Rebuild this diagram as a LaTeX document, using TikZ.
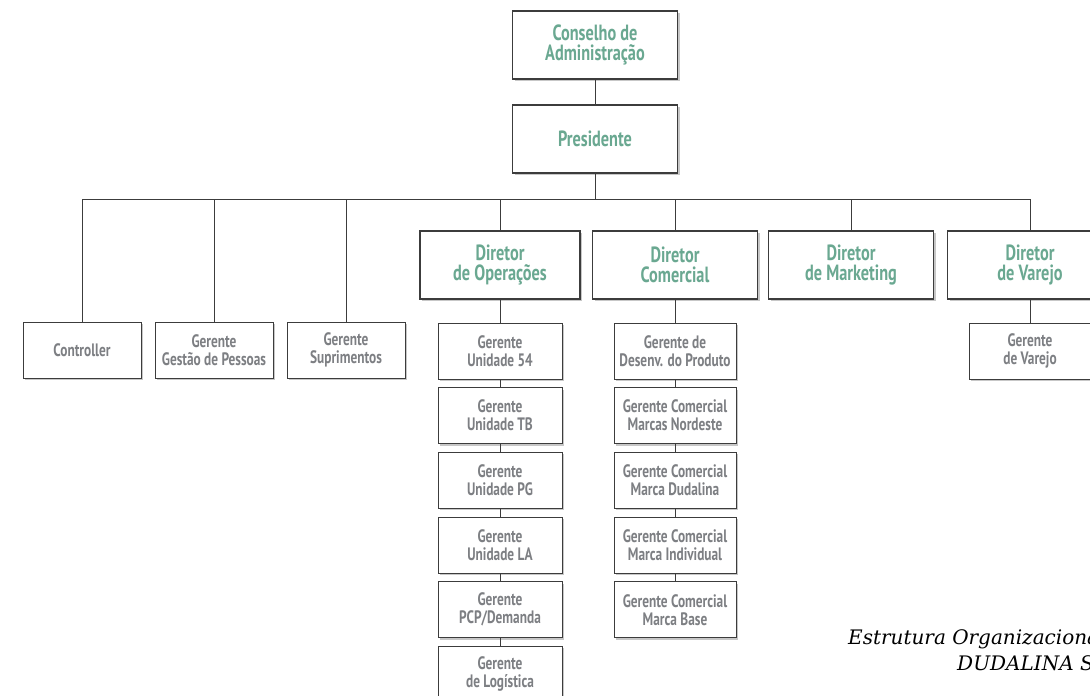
\documentclass[tikz,border=0pt]{standalone}
\usepackage{fontspec}
\newfontfamily\orgfont[FakeStretch=0.74]{PT Sans}
\newfontfamily\captfont{DejaVu Serif}
\usetikzlibrary{positioning,shadows}
\definecolor{verde}{HTML}{6AA891}
\definecolor{cinza}{HTML}{7D7F83}
\definecolor{borda}{HTML}{3C3C3C}

\begin{document}
\begin{tikzpicture}
  [x=1pt,y=-1pt,
   boxN/.style={rectangle,draw=borda,fill=white,align=center,inner sep=0pt,
     drop shadow={shadow xshift=2pt,shadow yshift=-2pt,fill=black!22,opacity=1}},
   dirN/.style={boxN,line width=1.1pt,minimum width=165pt,minimum height=68pt,
     font=\orgfont\bfseries\fontsize{22}{20}\selectfont,text=verde},
   gerN/.style={boxN,line width=0.7pt,minimum width=122pt,minimum height=56pt,
     font=\orgfont\bfseries\fontsize{18}{18}\selectfont,text=cinza},
   opsN/.style={gerN,minimum width=124pt},
   linkN/.style={draw=borda,line width=1pt},
   node distance=8pt]

  \useasboundingbox (0,0) rectangle (1090,696);
  \clip (0,0) rectangle (1090,696);

  % topo
  \node[dirN] (conselho) at (595,45) {Conselho de\\Administração};
  \node[dirN] (presidente) at (595,139) {Presidente};
  \coordinate (bus) at (595,199);

  % diretores
  \node[dirN,minimum width=160pt] (dirops) at (500,265) {Diretor\\de Operações};
  \node[dirN] (dircom) at (675,265) {Diretor\\Comercial};
  \node[dirN] (dirmkt) at (851,265) {Diretor\\de Marketing};
  \node[dirN] (dirvar) at (1030,265) {Diretor\\de Varejo};

  % staff
  \node[gerN,minimum width=118pt] (controller) at (82,350) {Controller};
  \node[gerN,minimum width=118pt] (pessoas) at (214,350) {Gerente\\Gestão de Pessoas};
  \node[gerN,minimum width=118pt] (suprim) at (346,350) {Gerente\\Suprimentos};

  % operacoes
  \node[opsN,below=23pt of dirops] (u54) {Gerente\\Unidade 54};
  \node[opsN,below=of u54] (utb) {Gerente\\Unidade TB};
  \node[opsN,below=of utb] (upg) {Gerente\\Unidade PG};
  \node[opsN,below=of upg] (ula) {Gerente\\Unidade LA};
  \node[opsN,below=of ula] (pcp) {Gerente\\PCP/Demanda};
  \node[opsN,below=of pcp] (logist) {Gerente\\de Logística};

  % comercial
  \node[gerN,below=23pt of dircom] (produto) {Gerente de\\Desenv. do Produto};
  \node[gerN,below=of produto] (nordeste) {Gerente Comercial\\Marcas Nordeste};
  \node[gerN,below=of nordeste] (dudalina) {Gerente Comercial\\Marca Dudalina};
  \node[gerN,below=of dudalina] (individual) {Gerente Comercial\\Marca Individual};
  \node[gerN,below=of individual] (base) {Gerente Comercial\\Marca Base};

  % varejo
  \node[gerN,below=23pt of dirvar] (gervar) {Gerente\\de Varejo};

  \draw [linkN] (conselho) -- (presidente);
  \draw [linkN] (presidente) -- (bus);
  \foreach \n in {controller,pessoas,suprim,dirops,dircom,dirmkt,dirvar}
    \draw [linkN] (bus) -| (\n.north);
  \draw [linkN] (dirops) -- (u54) -- (utb) -- (upg) -- (ula) -- (pcp) -- (logist);
  \draw [linkN] (dircom) -- (produto) -- (nordeste) -- (dudalina) -- (individual) -- (base);
  \draw [linkN] (dirvar) -- (gervar);

  % legenda
  \node[anchor=west,inner sep=0pt,font=\captfont\itshape\fontsize{20}{22}\selectfont]
    (titulo) at (848,639) {Estrutura Organizacional};
  \node[anchor=west,inner sep=0pt,font=\captfont\itshape\fontsize{20}{22}\selectfont]
    (empresa) at (957,664) {DUDALINA S/A};

\end{tikzpicture}
\end{document}
